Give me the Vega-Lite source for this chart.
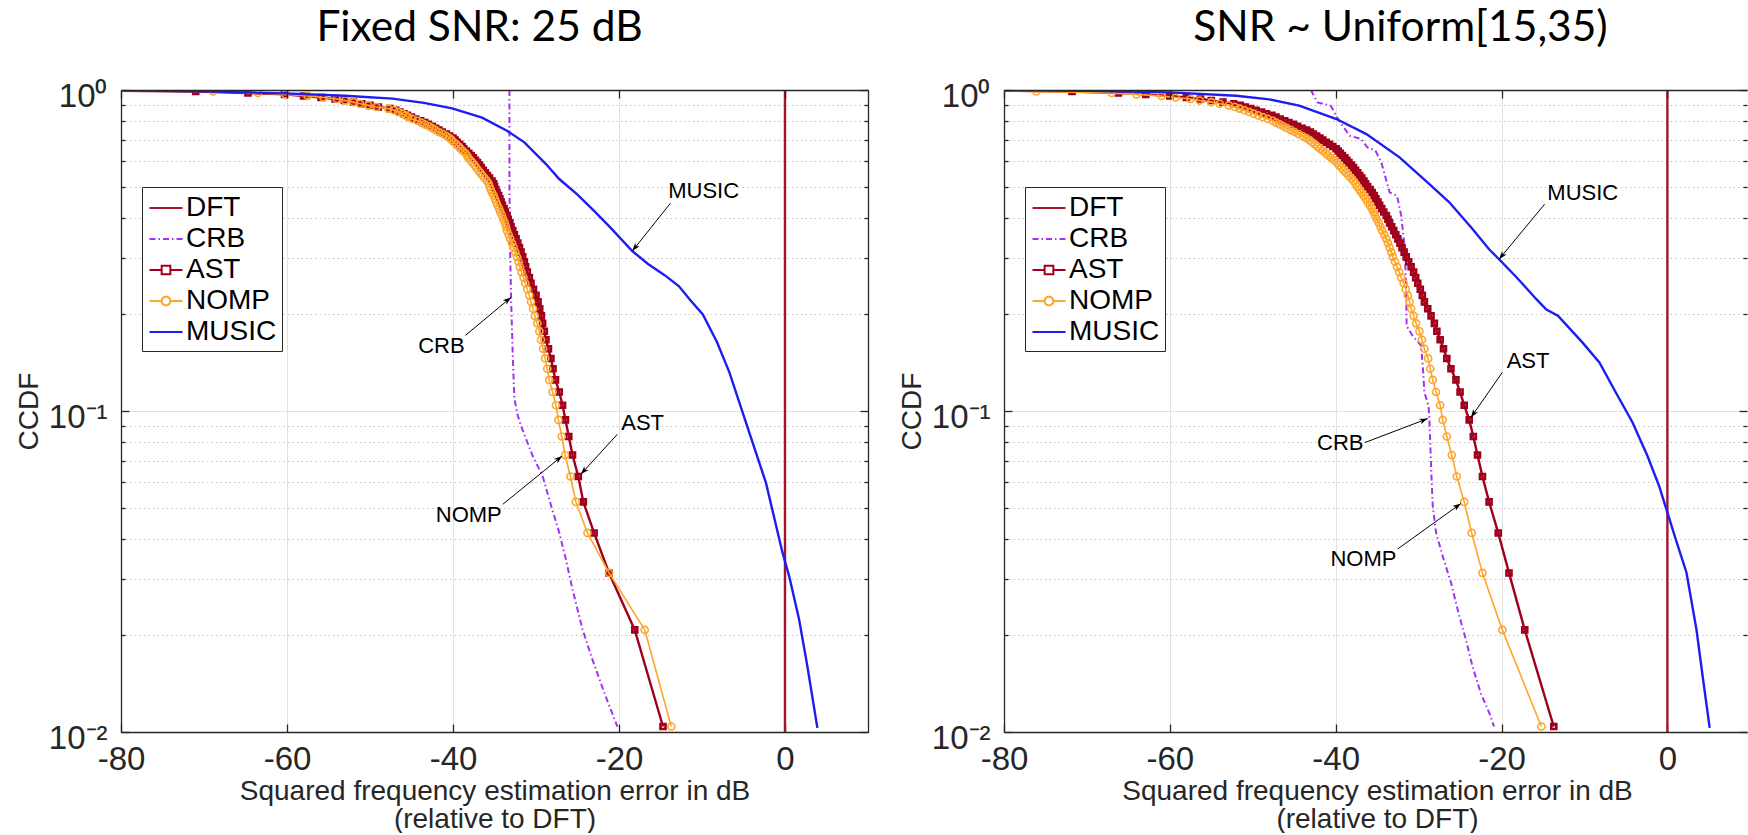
{
"$schema": "https://vega.github.io/schema/vega-lite/v6.json",
"autosize": {"type": "pad"},
"padding": {"left": 15, "top": 6, "right": 0, "bottom": 0},
"background": "white",
"datasets": {
"L_DFT": [{"x":0,"y":1},{"x":0,"y":0.01}],
"R_DFT": [{"x":0,"y":1},{"x":0,"y":0.01}],
"L_CRB": [{"x":-33.2,"y":1},{"x":-33.2,"y":0.5},{"x":-33.1,"y":0.3},{"x":-33.0,"y":0.223},{"x":-32.8,"y":0.148},{"x":-32.6,"y":0.109},{"x":-32.2,"y":0.097},{"x":-31.8,"y":0.0898},{"x":-30.4,"y":0.0724},{"x":-29.2,"y":0.0627},{"x":-28.4,"y":0.053},{"x":-27.2,"y":0.0418},{"x":-26.4,"y":0.0345},{"x":-25.6,"y":0.0278},{"x":-24.4,"y":0.0209},{"x":-23.2,"y":0.0168},{"x":-21.6,"y":0.0129},{"x":-20.2,"y":0.0104}],
"R_CRB": [{"x":-43.0,"y":1},{"x":-42.2,"y":0.915},{"x":-40.6,"y":0.894},{"x":-39.6,"y":0.802},{"x":-38.3,"y":0.72},{"x":-36.9,"y":0.703},{"x":-36.2,"y":0.663},{"x":-35.2,"y":0.647},{"x":-34.5,"y":0.595},{"x":-33.5,"y":0.48},{"x":-32.6,"y":0.468},{"x":-32.1,"y":0.406},{"x":-31.7,"y":0.327},{"x":-31.6,"y":0.283},{"x":-31.5,"y":0.234},{"x":-31.45,"y":0.184},{"x":-30.7,"y":0.171},{"x":-29.7,"y":0.16},{"x":-29.5,"y":0.138},{"x":-29.3,"y":0.114},{"x":-28.8,"y":0.104},{"x":-28.7,"y":0.094},{"x":-28.5,"y":0.0674},{"x":-28.3,"y":0.0506},{"x":-27.9,"y":0.0418},{"x":-27.1,"y":0.0353},{"x":-26.1,"y":0.0292},{"x":-25.1,"y":0.023},{"x":-24.3,"y":0.0194},{"x":-23.5,"y":0.016},{"x":-22.5,"y":0.0132},{"x":-21.5,"y":0.0115},{"x":-20.9,"y":0.0104}],
"L_MUSIC": [{"x":-80,"y":0.998},{"x":-70,"y":0.99},{"x":-60.2,"y":0.976},{"x":-53,"y":0.96},{"x":-47.3,"y":0.94},{"x":-43.5,"y":0.912},{"x":-40.1,"y":0.877},{"x":-36.5,"y":0.82},{"x":-33.5,"y":0.747},{"x":-31.4,"y":0.687},{"x":-28.8,"y":0.588},{"x":-27.2,"y":0.528},{"x":-25,"y":0.472},{"x":-23,"y":0.42},{"x":-21,"y":0.372},{"x":-18.4,"y":0.315},{"x":-16.5,"y":0.287},{"x":-14.5,"y":0.265},{"x":-12.8,"y":0.245},{"x":-11.5,"y":0.223},{"x":-9.9,"y":0.2},{"x":-8.2,"y":0.164},{"x":-6.7,"y":0.132},{"x":-4.7,"y":0.092},{"x":-2.3,"y":0.0598},{"x":-0.3,"y":0.0362},{"x":0.5,"y":0.0306},{"x":1.7,"y":0.0224},{"x":2.7,"y":0.016},{"x":3.9,"y":0.0103}],
"R_MUSIC": [{"x":-80,"y":0.998},{"x":-70,"y":0.994},{"x":-60,"y":0.983},{"x":-52,"y":0.96},{"x":-48,"y":0.935},{"x":-44.4,"y":0.894},{"x":-39.9,"y":0.812},{"x":-36.3,"y":0.729},{"x":-32.3,"y":0.617},{"x":-28.7,"y":0.509},{"x":-26.3,"y":0.447},{"x":-23.5,"y":0.369},{"x":-21.5,"y":0.319},{"x":-20.3,"y":0.297},{"x":-18.2,"y":0.261},{"x":-15.8,"y":0.223},{"x":-14.6,"y":0.207},{"x":-13.2,"y":0.198},{"x":-10.2,"y":0.163},{"x":-8.2,"y":0.1416},{"x":-6.2,"y":0.114},{"x":-4.2,"y":0.0921},{"x":-2.4,"y":0.0724},{"x":-1.0,"y":0.0584},{"x":0.0,"y":0.0483},{"x":1.0,"y":0.0399},{"x":2.3,"y":0.0314},{"x":3.5,"y":0.0209},{"x":4.3,"y":0.0146},{"x":5.1,"y":0.0103}],
"L_AST": [{"x":-14.7,"y":0.0104},{"x":-18.1,"y":0.0208},{"x":-21.2,"y":0.0313},{"x":-23.0,"y":0.0417},{"x":-24.3,"y":0.0521},{"x":-24.9,"y":0.0625},{"x":-25.6,"y":0.0729},{"x":-26.05,"y":0.0833},{"x":-26.45,"y":0.0938},{"x":-26.8,"y":0.1042},{"x":-27.2,"y":0.1146},{"x":-27.65,"y":0.125},{"x":-27.95,"y":0.1354},{"x":-28.2,"y":0.1458},{"x":-28.5,"y":0.1563},{"x":-28.8,"y":0.1667},{"x":-29.0,"y":0.1771},{"x":-29.2,"y":0.1875},{"x":-29.35,"y":0.1979},{"x":-29.55,"y":0.2083},{"x":-29.75,"y":0.2188},{"x":-30.0,"y":0.2292},{"x":-30.3,"y":0.2396},{"x":-30.6,"y":0.25},{"x":-30.8,"y":0.2604},{"x":-31.05,"y":0.2708},{"x":-31.25,"y":0.2813},{"x":-31.4,"y":0.2917},{"x":-31.6,"y":0.3021},{"x":-31.8,"y":0.3125},{"x":-32.0,"y":0.3229},{"x":-32.2,"y":0.3333},{"x":-32.4,"y":0.3438},{"x":-32.6,"y":0.3542},{"x":-32.8,"y":0.3646},{"x":-33.0,"y":0.375},{"x":-33.15,"y":0.3854},{"x":-33.35,"y":0.3958},{"x":-33.5,"y":0.4063},{"x":-33.7,"y":0.4167},{"x":-33.85,"y":0.4271},{"x":-34.05,"y":0.4375},{"x":-34.2,"y":0.4479},{"x":-34.35,"y":0.4583},{"x":-34.5,"y":0.4688},{"x":-34.7,"y":0.4792},{"x":-34.85,"y":0.4896},{"x":-35.0,"y":0.5},{"x":-35.1,"y":0.5104},{"x":-35.3,"y":0.5208},{"x":-35.6,"y":0.5313},{"x":-35.85,"y":0.5417},{"x":-36.1,"y":0.5521},{"x":-36.35,"y":0.5625},{"x":-36.6,"y":0.5729},{"x":-36.8,"y":0.5833},{"x":-37.05,"y":0.5938},{"x":-37.3,"y":0.6042},{"x":-37.55,"y":0.6146},{"x":-37.8,"y":0.625},{"x":-38.1,"y":0.6354},{"x":-38.4,"y":0.6458},{"x":-38.7,"y":0.6563},{"x":-38.9,"y":0.6667},{"x":-39.2,"y":0.6771},{"x":-39.5,"y":0.6875},{"x":-39.75,"y":0.6979},{"x":-40.0,"y":0.7083},{"x":-40.4,"y":0.7188},{"x":-40.8,"y":0.7292},{"x":-41.3,"y":0.7396},{"x":-41.7,"y":0.75},{"x":-42.1,"y":0.7604},{"x":-42.5,"y":0.7708},{"x":-43.0,"y":0.7813},{"x":-43.4,"y":0.7917},{"x":-43.9,"y":0.8021},{"x":-44.5,"y":0.8125},{"x":-45.0,"y":0.8229},{"x":-45.5,"y":0.8333},{"x":-45.9,"y":0.8438},{"x":-46.4,"y":0.8542},{"x":-46.9,"y":0.8646},{"x":-47.6,"y":0.875},{"x":-49.0,"y":0.8854},{"x":-50.0,"y":0.8958},{"x":-51.0,"y":0.9063},{"x":-52.0,"y":0.9167},{"x":-53.1,"y":0.9271},{"x":-54.2,"y":0.9375},{"x":-55.9,"y":0.9479},{"x":-58.0,"y":0.9583},{"x":-60.3,"y":0.9688},{"x":-64.7,"y":0.9792},{"x":-71.0,"y":0.9896},{"x":-88,"y":1}],
"L_NOMP": [{"x":-13.7,"y":0.0104},{"x":-16.9,"y":0.0208},{"x":-21.2,"y":0.0313},{"x":-23.8,"y":0.0417},{"x":-25.2,"y":0.0521},{"x":-25.85,"y":0.0625},{"x":-26.5,"y":0.0729},{"x":-26.9,"y":0.0833},{"x":-27.3,"y":0.0938},{"x":-27.6,"y":0.1042},{"x":-28.0,"y":0.1146},{"x":-28.4,"y":0.125},{"x":-28.65,"y":0.1354},{"x":-28.9,"y":0.1458},{"x":-29.15,"y":0.1563},{"x":-29.4,"y":0.1667},{"x":-29.6,"y":0.1771},{"x":-29.85,"y":0.1875},{"x":-30.15,"y":0.1979},{"x":-30.35,"y":0.2083},{"x":-30.6,"y":0.2188},{"x":-30.8,"y":0.2292},{"x":-31.05,"y":0.2396},{"x":-31.3,"y":0.25},{"x":-31.5,"y":0.2604},{"x":-31.75,"y":0.2708},{"x":-31.95,"y":0.2813},{"x":-32.1,"y":0.2917},{"x":-32.3,"y":0.3021},{"x":-32.5,"y":0.3125},{"x":-32.7,"y":0.3229},{"x":-32.9,"y":0.3333},{"x":-33.1,"y":0.3438},{"x":-33.3,"y":0.3542},{"x":-33.5,"y":0.3646},{"x":-33.6,"y":0.375},{"x":-33.75,"y":0.3854},{"x":-33.95,"y":0.3958},{"x":-34.1,"y":0.4063},{"x":-34.3,"y":0.4167},{"x":-34.45,"y":0.4271},{"x":-34.65,"y":0.4375},{"x":-34.8,"y":0.4479},{"x":-34.95,"y":0.4583},{"x":-35.1,"y":0.4688},{"x":-35.3,"y":0.4792},{"x":-35.45,"y":0.4896},{"x":-35.6,"y":0.5},{"x":-35.7,"y":0.5104},{"x":-35.9,"y":0.5208},{"x":-36.2,"y":0.5313},{"x":-36.45,"y":0.5417},{"x":-36.7,"y":0.5521},{"x":-36.95,"y":0.5625},{"x":-37.2,"y":0.5729},{"x":-37.4,"y":0.5833},{"x":-37.65,"y":0.5938},{"x":-37.9,"y":0.6042},{"x":-38.15,"y":0.6146},{"x":-38.3,"y":0.625},{"x":-38.5,"y":0.6354},{"x":-38.8,"y":0.6458},{"x":-39.1,"y":0.6563},{"x":-39.3,"y":0.6667},{"x":-39.6,"y":0.6771},{"x":-39.9,"y":0.6875},{"x":-40.15,"y":0.6979},{"x":-40.4,"y":0.7083},{"x":-40.8,"y":0.7188},{"x":-41.2,"y":0.7292},{"x":-41.7,"y":0.7396},{"x":-42.1,"y":0.75},{"x":-42.5,"y":0.7604},{"x":-42.9,"y":0.7708},{"x":-43.4,"y":0.7813},{"x":-43.8,"y":0.7917},{"x":-44.3,"y":0.8021},{"x":-44.9,"y":0.8125},{"x":-45.4,"y":0.8229},{"x":-45.7,"y":0.8333},{"x":-46.1,"y":0.8438},{"x":-46.6,"y":0.8542},{"x":-47.1,"y":0.8646},{"x":-47.8,"y":0.875},{"x":-49.2,"y":0.8854},{"x":-50.2,"y":0.8958},{"x":-51.2,"y":0.9063},{"x":-52.0,"y":0.9167},{"x":-53.0,"y":0.9271},{"x":-54.0,"y":0.9375},{"x":-55.6,"y":0.9479},{"x":-57.5,"y":0.9583},{"x":-60.2,"y":0.9688},{"x":-63.5,"y":0.9792},{"x":-68.9,"y":0.9896},{"x":-88,"y":1}],
"R_AST": [{"x":-13.7,"y":0.0104},{"x":-17.2,"y":0.0208},{"x":-19.1,"y":0.0313},{"x":-20.4,"y":0.0417},{"x":-21.5,"y":0.0521},{"x":-22.3,"y":0.0625},{"x":-22.9,"y":0.0729},{"x":-23.4,"y":0.0833},{"x":-23.9,"y":0.0938},{"x":-24.5,"y":0.1042},{"x":-25.0,"y":0.1146},{"x":-25.5,"y":0.125},{"x":-26.1,"y":0.1354},{"x":-26.6,"y":0.1458},{"x":-27.0,"y":0.1563},{"x":-27.4,"y":0.1667},{"x":-27.8,"y":0.1771},{"x":-28.1,"y":0.1875},{"x":-28.5,"y":0.1979},{"x":-28.9,"y":0.2083},{"x":-29.3,"y":0.2188},{"x":-29.55,"y":0.2292},{"x":-29.8,"y":0.2396},{"x":-30.1,"y":0.25},{"x":-30.35,"y":0.2604},{"x":-30.6,"y":0.2708},{"x":-30.9,"y":0.2813},{"x":-31.2,"y":0.2917},{"x":-31.5,"y":0.3021},{"x":-31.75,"y":0.3125},{"x":-32.0,"y":0.3229},{"x":-32.25,"y":0.3333},{"x":-32.5,"y":0.3438},{"x":-32.75,"y":0.3542},{"x":-33.0,"y":0.3646},{"x":-33.25,"y":0.375},{"x":-33.5,"y":0.3854},{"x":-33.7,"y":0.3958},{"x":-33.9,"y":0.4063},{"x":-34.2,"y":0.4167},{"x":-34.45,"y":0.4271},{"x":-34.7,"y":0.4375},{"x":-34.9,"y":0.4479},{"x":-35.15,"y":0.4583},{"x":-35.35,"y":0.4688},{"x":-35.6,"y":0.4792},{"x":-35.85,"y":0.4896},{"x":-36.15,"y":0.5},{"x":-36.4,"y":0.5104},{"x":-36.6,"y":0.5208},{"x":-36.85,"y":0.5313},{"x":-37.1,"y":0.5417},{"x":-37.35,"y":0.5521},{"x":-37.6,"y":0.5625},{"x":-37.85,"y":0.5729},{"x":-38.1,"y":0.5833},{"x":-38.4,"y":0.5938},{"x":-38.65,"y":0.6042},{"x":-38.9,"y":0.6146},{"x":-39.2,"y":0.625},{"x":-39.45,"y":0.6354},{"x":-39.7,"y":0.6458},{"x":-39.95,"y":0.6563},{"x":-40.35,"y":0.6667},{"x":-40.75,"y":0.6771},{"x":-41.15,"y":0.6875},{"x":-41.55,"y":0.6979},{"x":-41.9,"y":0.7083},{"x":-42.3,"y":0.7188},{"x":-42.7,"y":0.7292},{"x":-43.05,"y":0.7396},{"x":-43.5,"y":0.75},{"x":-44.05,"y":0.7604},{"x":-44.6,"y":0.7708},{"x":-45.1,"y":0.7813},{"x":-45.65,"y":0.7917},{"x":-46.15,"y":0.8021},{"x":-46.7,"y":0.8125},{"x":-47.2,"y":0.8229},{"x":-47.7,"y":0.8333},{"x":-48.35,"y":0.8438},{"x":-48.95,"y":0.8542},{"x":-49.6,"y":0.8646},{"x":-50.25,"y":0.875},{"x":-50.9,"y":0.8854},{"x":-51.5,"y":0.8958},{"x":-52.3,"y":0.9063},{"x":-53.6,"y":0.9167},{"x":-55.0,"y":0.9271},{"x":-56.3,"y":0.9375},{"x":-58.0,"y":0.9479},{"x":-60.0,"y":0.9583},{"x":-62.9,"y":0.9688},{"x":-66.2,"y":0.9792},{"x":-71.8,"y":0.9896},{"x":-88,"y":1}],
"R_NOMP": [{"x":-15.2,"y":0.0104},{"x":-19.9,"y":0.0208},{"x":-22.3,"y":0.0313},{"x":-23.6,"y":0.0417},{"x":-24.5,"y":0.0521},{"x":-25.4,"y":0.0625},{"x":-26.0,"y":0.0729},{"x":-26.6,"y":0.0833},{"x":-27.1,"y":0.0938},{"x":-27.4,"y":0.1042},{"x":-27.9,"y":0.1146},{"x":-28.3,"y":0.125},{"x":-28.6,"y":0.1354},{"x":-28.85,"y":0.1458},{"x":-29.3,"y":0.1563},{"x":-29.6,"y":0.1667},{"x":-29.9,"y":0.1771},{"x":-30.3,"y":0.1875},{"x":-30.6,"y":0.1979},{"x":-30.9,"y":0.2083},{"x":-31.1,"y":0.2188},{"x":-31.3,"y":0.2292},{"x":-31.55,"y":0.2396},{"x":-31.8,"y":0.25},{"x":-32.1,"y":0.2604},{"x":-32.35,"y":0.2708},{"x":-32.6,"y":0.2813},{"x":-32.85,"y":0.2917},{"x":-33.1,"y":0.3021},{"x":-33.3,"y":0.3125},{"x":-33.5,"y":0.3229},{"x":-33.7,"y":0.3333},{"x":-33.9,"y":0.3438},{"x":-34.15,"y":0.3542},{"x":-34.4,"y":0.3646},{"x":-34.6,"y":0.375},{"x":-34.8,"y":0.3854},{"x":-35.05,"y":0.3958},{"x":-35.25,"y":0.4063},{"x":-35.45,"y":0.4167},{"x":-35.65,"y":0.4271},{"x":-35.9,"y":0.4375},{"x":-36.15,"y":0.4479},{"x":-36.4,"y":0.4583},{"x":-36.65,"y":0.4688},{"x":-36.9,"y":0.4792},{"x":-37.15,"y":0.4896},{"x":-37.4,"y":0.5},{"x":-37.6,"y":0.5104},{"x":-37.85,"y":0.5208},{"x":-38.15,"y":0.5313},{"x":-38.45,"y":0.5417},{"x":-38.75,"y":0.5521},{"x":-39.05,"y":0.5625},{"x":-39.3,"y":0.5729},{"x":-39.6,"y":0.5833},{"x":-39.85,"y":0.5938},{"x":-40.2,"y":0.6042},{"x":-40.55,"y":0.6146},{"x":-40.9,"y":0.625},{"x":-41.2,"y":0.6354},{"x":-41.55,"y":0.6458},{"x":-41.9,"y":0.6563},{"x":-42.2,"y":0.6667},{"x":-42.5,"y":0.6771},{"x":-42.85,"y":0.6875},{"x":-43.15,"y":0.6979},{"x":-43.55,"y":0.7083},{"x":-44.0,"y":0.7188},{"x":-44.5,"y":0.7292},{"x":-44.95,"y":0.7396},{"x":-45.4,"y":0.75},{"x":-45.9,"y":0.7604},{"x":-46.3,"y":0.7708},{"x":-46.75,"y":0.7813},{"x":-47.2,"y":0.7917},{"x":-47.6,"y":0.8021},{"x":-48.2,"y":0.8125},{"x":-48.8,"y":0.8229},{"x":-49.35,"y":0.8333},{"x":-49.9,"y":0.8438},{"x":-50.45,"y":0.8542},{"x":-51.0,"y":0.8646},{"x":-51.6,"y":0.875},{"x":-52.15,"y":0.8854},{"x":-52.9,"y":0.8958},{"x":-54.0,"y":0.9063},{"x":-55.0,"y":0.9167},{"x":-56.4,"y":0.9271},{"x":-57.5,"y":0.9375},{"x":-59.3,"y":0.9479},{"x":-61.0,"y":0.9583},{"x":-64.0,"y":0.9688},{"x":-67.0,"y":0.9792},{"x":-76.1,"y":0.9896},{"x":-88,"y":1}],
"L_notes": [{"label":"MUSIC","tx":-9.8,"ty":0.485,"sx":-13.8,"sy":0.444,"ex":-18.4,"ey":0.315,"heading":218},{"label":"CRB","tx":-41.4,"ty":0.159,"sx":-38.5,"sy":0.172,"ex":-33.0,"ey":0.226,"heading":51},{"label":"AST","tx":-17.15,"ty":0.092,"sx":-20.2,"sy":0.0846,"ex":-24.6,"ey":0.0635,"heading":222},{"label":"NOMP","tx":-38.1,"ty":0.0473,"sx":-34.0,"sy":0.0512,"ex":-26.85,"ey":0.0724,"heading":51}],
"R_notes": [{"label":"MUSIC","tx":-10.2,"ty":0.479,"sx":-14.8,"sy":0.441,"ex":-20.3,"ey":0.297,"heading":219},{"label":"AST","tx":-16.8,"ty":0.143,"sx":-19.9,"sy":0.132,"ex":-23.7,"ey":0.0954,"heading":215},{"label":"CRB","tx":-39.45,"ty":0.0797,"sx":-36.5,"sy":0.0797,"ex":-28.9,"ey":0.0947,"heading":69},{"label":"NOMP","tx":-36.65,"ty":0.0347,"sx":-32.5,"sy":0.0372,"ex":-24.9,"ey":0.0515,"heading":54}]
},
"hconcat": [
{
"width": 747, "height": 642,
"title": {"text": "Fixed SNR: 25 dB", "dx": -15, "offset": -3, "baseline": "alphabetic"},
"resolve": {"axis": {"x": "independent", "y": "independent"}},
"layer": [
{"data": {"name": "L_DFT"}, "mark": {"type": "line", "strokeWidth": 2.4, "clip": true},
 "encoding": {
  "x": {"field": "x", "type": "quantitative", "scale": {"domain": [-80, 10], "nice": false, "zero": false},
        "axis": {"orient": "bottom", "values": [-80,-60,-40,-20,0], "labelExpr": "'' + datum.value", "grid": true, "gridColor": "#e2e2e2", "gridWidth": 1, "tickSize": -8, "labelPadding": 19, "labelFlush": false, "labelFontSize": 33, "title": ["Squared frequency estimation error in dB", "(relative to DFT)"], "titleFontSize": 28, "titleY": 67, "titleBaseline": "alphabetic", "titleLineHeight": 28}},
  "y": {"field": "y", "type": "quantitative", "scale": {"type": "log", "domain": [0.01, 1], "nice": false},
        "axis": {"orient": "left", "values": [0.01,0.02,0.03,0.04,0.05,0.06,0.07,0.08,0.09,0.1,0.2,0.3,0.4,0.5,0.6,0.7,0.8,0.9,1], "labelExpr": "datum.value === 1 ? '10⁰' : datum.value === 0.1 ? '10⁻¹' : datum.value === 0.01 ? '10⁻²' : ''", "labelOverlap": false, "labelFlush": false, "labelFontSize": 33, "labelPadding": 22, "labelOffset": 6, "grid": true,
          "gridColor": {"condition": {"test": "datum.value === 1 || datum.value === 0.1 || datum.value === 0.01", "value": "#e2e2e2"}, "value": "#c2c2c2"},
          "gridDash": {"condition": {"test": "datum.value === 1 || datum.value === 0.1 || datum.value === 0.01", "value": []}, "value": [1.5, 3]},
          "tickSize": {"condition": {"test": "datum.value === 1 || datum.value === 0.1 || datum.value === 0.01", "value": -8}, "value": -4},
          "title": "CCDF", "titleFontSize": 28, "titleX": -84, "titleBaseline": "alphabetic", "titleAngle": 270}},
  "color": {"datum": "DFT", "type": "nominal",
    "scale": {"domain": ["DFT","CRB","AST","NOMP","MUSIC"], "range": ["#A2142F","#A530F5","#A0001C","#FDA62B","#1D1DF2"]},
    "legend": {"orient": "none", "legendX": 21, "legendY": 97, "title": null, "labelFont": "Liberation Sans", "labelFontSize": 28, "labelColor": "black", "labelExpr": "datum.label + '\u00a0\u00a0'", "symbolSize": 900, "symbolStrokeWidth": 2, "rowPadding": 1, "padding": 5, "labelOffset": 7, "strokeColor": "#262626", "fillColor": "white",
      "encode": {"symbols": {"update": {
        "shape": {"signal": "datum.value === 'AST' ? 'M-0.9,0H-0.09M0.49,0H1.3M-0.09,-0.29H0.49V0.29H-0.09Z' : datum.value === 'NOMP' ? 'M-0.9,0H-0.09M0.49,0H1.3M-0.09,0A0.29,0.29 0 1,0 0.49,0A0.29,0.29 0 1,0 -0.09,0' : 'M-0.9,0H1.3'"},
        "strokeDash": {"signal": "datum.value === 'CRB' ? [6,3,1.5,3] : [1,0]"},
        "fill": {"value": "transparent"}}}}}},
  "order": {"field": "y", "sort": "descending"}}},
{"data": {"name": "L_CRB"}, "mark": {"type": "line", "strokeWidth": 2, "strokeDash": [6,3,1.5,3], "clip": true},
 "encoding": {
  "x": {"field": "x", "type": "quantitative", "axis": {"orient": "top", "values": [-80,-60,-40,-20,0], "labels": false, "grid": false, "tickSize": -8, "title": null, "zindex": 1}},
  "y": {"field": "y", "type": "quantitative", "axis": {"orient": "right", "values": [0.01,0.02,0.03,0.04,0.05,0.06,0.07,0.08,0.09,0.1,0.2,0.3,0.4,0.5,0.6,0.7,0.8,0.9,1], "labels": false, "grid": false, "title": null, "zindex": 1,
     "tickSize": {"condition": {"test": "datum.value === 1 || datum.value === 0.1 || datum.value === 0.01", "value": -8}, "value": -4}}},
  "color": {"datum": "CRB", "type": "nominal"},
  "order": {"field": "y", "sort": "descending"}}},
{"data": {"name": "L_AST"}, "mark": {"type": "line", "strokeWidth": 2.4, "clip": true},
 "encoding": {"x": {"field": "x", "type": "quantitative", "axis": null}, "y": {"field": "y", "type": "quantitative", "axis": null}, "color": {"datum": "AST", "type": "nominal"}, "order": {"field": "y", "sort": "descending"}}},
{"data": {"name": "L_AST"}, "mark": {"type": "point", "shape": "square", "filled": false, "size": 25, "strokeWidth": 2.6, "opacity": 1, "clip": true},
 "encoding": {"x": {"field": "x", "type": "quantitative", "axis": null}, "y": {"field": "y", "type": "quantitative", "axis": null}, "color": {"datum": "AST", "type": "nominal"}}},
{"data": {"name": "L_NOMP"}, "mark": {"type": "line", "strokeWidth": 1.6, "clip": true},
 "encoding": {"x": {"field": "x", "type": "quantitative", "axis": null}, "y": {"field": "y", "type": "quantitative", "axis": null}, "color": {"datum": "NOMP", "type": "nominal"}, "order": {"field": "y", "sort": "descending"}}},
{"data": {"name": "L_NOMP"}, "mark": {"type": "point", "shape": "circle", "filled": false, "size": 50, "strokeWidth": 1.6, "opacity": 1, "clip": true},
 "encoding": {"x": {"field": "x", "type": "quantitative", "axis": null}, "y": {"field": "y", "type": "quantitative", "axis": null}, "color": {"datum": "NOMP", "type": "nominal"}}},
{"data": {"name": "L_MUSIC"}, "mark": {"type": "line", "strokeWidth": 2.4, "clip": true},
 "encoding": {"x": {"field": "x", "type": "quantitative", "axis": null}, "y": {"field": "y", "type": "quantitative", "axis": null}, "color": {"datum": "MUSIC", "type": "nominal"}, "order": {"field": "y", "sort": "descending"}}},
{"data": {"name": "L_notes"}, "mark": {"type": "rule", "color": "black", "strokeWidth": 1},
 "encoding": {"x": {"field": "sx", "type": "quantitative", "axis": null}, "y": {"field": "sy", "type": "quantitative", "axis": null}, "x2": {"field": "ex"}, "y2": {"field": "ey"}}},
{"data": {"name": "L_notes"}, "mark": {"type": "point", "shape": "M0,0L-0.55,1.6L0,1.15L0.55,1.6Z", "filled": true, "color": "black", "size": 110, "opacity": 1},
 "encoding": {"x": {"field": "ex", "type": "quantitative", "axis": null}, "y": {"field": "ey", "type": "quantitative", "axis": null}, "angle": {"field": "heading", "type": "quantitative", "scale": null}}},
{"data": {"name": "L_notes"}, "mark": {"type": "text", "font": "Liberation Sans", "fontSize": 22, "color": "black", "align": "center", "baseline": "middle"},
 "encoding": {"x": {"field": "tx", "type": "quantitative", "axis": null}, "y": {"field": "ty", "type": "quantitative", "axis": null}, "text": {"field": "label"}}}
]
},
{
"width": 743, "height": 642,
"title": {"text": "SNR ~ Uniform[15,35)", "dx": 25, "offset": -3, "baseline": "alphabetic"},
"resolve": {"axis": {"x": "independent", "y": "independent"}},
"layer": [
{"data": {"name": "R_DFT"}, "mark": {"type": "line", "strokeWidth": 2.4, "clip": true},
 "encoding": {
  "x": {"field": "x", "type": "quantitative", "scale": {"domain": [-80, 9.6], "nice": false, "zero": false},
        "axis": {"orient": "bottom", "values": [-80,-60,-40,-20,0], "labelExpr": "'' + datum.value", "grid": true, "gridColor": "#e2e2e2", "gridWidth": 1, "tickSize": -8, "labelPadding": 19, "labelFlush": false, "labelFontSize": 33, "title": ["Squared frequency estimation error in dB", "(relative to DFT)"], "titleFontSize": 28, "titleX": 373, "titleY": 67, "titleBaseline": "alphabetic", "titleLineHeight": 28}},
  "y": {"field": "y", "type": "quantitative", "scale": {"type": "log", "domain": [0.01, 1], "nice": false},
        "axis": {"orient": "left", "values": [0.01,0.02,0.03,0.04,0.05,0.06,0.07,0.08,0.09,0.1,0.2,0.3,0.4,0.5,0.6,0.7,0.8,0.9,1], "labelExpr": "datum.value === 1 ? '10⁰' : datum.value === 0.1 ? '10⁻¹' : datum.value === 0.01 ? '10⁻²' : ''", "labelOverlap": false, "labelFlush": false, "labelFontSize": 33, "labelPadding": 22, "labelOffset": 6, "grid": true,
          "gridColor": {"condition": {"test": "datum.value === 1 || datum.value === 0.1 || datum.value === 0.01", "value": "#e2e2e2"}, "value": "#c2c2c2"},
          "gridDash": {"condition": {"test": "datum.value === 1 || datum.value === 0.1 || datum.value === 0.01", "value": []}, "value": [1.5, 3]},
          "tickSize": {"condition": {"test": "datum.value === 1 || datum.value === 0.1 || datum.value === 0.01", "value": -8}, "value": -4},
          "title": "CCDF", "titleFontSize": 28, "titleX": -84, "titleBaseline": "alphabetic", "titleAngle": 270}},
  "color": {"datum": "DFT", "type": "nominal",
    "scale": {"domain": ["DFT","CRB","AST","NOMP","MUSIC"], "range": ["#A2142F","#A530F5","#A0001C","#FDA62B","#1D1DF2"]},
    "legend": {"orient": "none", "legendX": 21, "legendY": 97, "title": null, "labelFont": "Liberation Sans", "labelFontSize": 28, "labelColor": "black", "labelExpr": "datum.label + '\u00a0\u00a0'", "symbolSize": 900, "symbolStrokeWidth": 2, "rowPadding": 1, "padding": 5, "labelOffset": 7, "strokeColor": "#262626", "fillColor": "white",
      "encode": {"symbols": {"update": {
        "shape": {"signal": "datum.value === 'AST' ? 'M-0.9,0H-0.09M0.49,0H1.3M-0.09,-0.29H0.49V0.29H-0.09Z' : datum.value === 'NOMP' ? 'M-0.9,0H-0.09M0.49,0H1.3M-0.09,0A0.29,0.29 0 1,0 0.49,0A0.29,0.29 0 1,0 -0.09,0' : 'M-0.9,0H1.3'"},
        "strokeDash": {"signal": "datum.value === 'CRB' ? [6,3,1.5,3] : [1,0]"},
        "fill": {"value": "transparent"}}}}}},
  "order": {"field": "y", "sort": "descending"}}},
{"data": {"name": "R_CRB"}, "mark": {"type": "line", "strokeWidth": 2, "strokeDash": [6,3,1.5,3], "clip": true},
 "encoding": {
  "x": {"field": "x", "type": "quantitative", "axis": {"orient": "top", "values": [-80,-60,-40,-20,0], "labels": false, "grid": false, "tickSize": -8, "title": null, "zindex": 1}},
  "y": {"field": "y", "type": "quantitative", "axis": {"orient": "right", "values": [0.01,0.02,0.03,0.04,0.05,0.06,0.07,0.08,0.09,0.1,0.2,0.3,0.4,0.5,0.6,0.7,0.8,0.9,1], "labels": false, "grid": false, "domain": false, "title": null, "zindex": 1,
     "tickSize": {"condition": {"test": "datum.value === 1 || datum.value === 0.1 || datum.value === 0.01", "value": -8}, "value": -4}}},
  "color": {"datum": "CRB", "type": "nominal"},
  "order": {"field": "y", "sort": "descending"}}},
{"data": {"name": "R_AST"}, "mark": {"type": "line", "strokeWidth": 2.4, "clip": true},
 "encoding": {"x": {"field": "x", "type": "quantitative", "axis": null}, "y": {"field": "y", "type": "quantitative", "axis": null}, "color": {"datum": "AST", "type": "nominal"}, "order": {"field": "y", "sort": "descending"}}},
{"data": {"name": "R_AST"}, "mark": {"type": "point", "shape": "square", "filled": false, "size": 25, "strokeWidth": 2.6, "opacity": 1, "clip": true},
 "encoding": {"x": {"field": "x", "type": "quantitative", "axis": null}, "y": {"field": "y", "type": "quantitative", "axis": null}, "color": {"datum": "AST", "type": "nominal"}}},
{"data": {"name": "R_NOMP"}, "mark": {"type": "line", "strokeWidth": 1.6, "clip": true},
 "encoding": {"x": {"field": "x", "type": "quantitative", "axis": null}, "y": {"field": "y", "type": "quantitative", "axis": null}, "color": {"datum": "NOMP", "type": "nominal"}, "order": {"field": "y", "sort": "descending"}}},
{"data": {"name": "R_NOMP"}, "mark": {"type": "point", "shape": "circle", "filled": false, "size": 50, "strokeWidth": 1.6, "opacity": 1, "clip": true},
 "encoding": {"x": {"field": "x", "type": "quantitative", "axis": null}, "y": {"field": "y", "type": "quantitative", "axis": null}, "color": {"datum": "NOMP", "type": "nominal"}}},
{"data": {"name": "R_MUSIC"}, "mark": {"type": "line", "strokeWidth": 2.4, "clip": true},
 "encoding": {"x": {"field": "x", "type": "quantitative", "axis": null}, "y": {"field": "y", "type": "quantitative", "axis": null}, "color": {"datum": "MUSIC", "type": "nominal"}, "order": {"field": "y", "sort": "descending"}}},
{"data": {"name": "R_notes"}, "mark": {"type": "rule", "color": "black", "strokeWidth": 1},
 "encoding": {"x": {"field": "sx", "type": "quantitative", "axis": null}, "y": {"field": "sy", "type": "quantitative", "axis": null}, "x2": {"field": "ex"}, "y2": {"field": "ey"}}},
{"data": {"name": "R_notes"}, "mark": {"type": "point", "shape": "M0,0L-0.55,1.6L0,1.15L0.55,1.6Z", "filled": true, "color": "black", "size": 110, "opacity": 1},
 "encoding": {"x": {"field": "ex", "type": "quantitative", "axis": null}, "y": {"field": "ey", "type": "quantitative", "axis": null}, "angle": {"field": "heading", "type": "quantitative", "scale": null}}},
{"data": {"name": "R_notes"}, "mark": {"type": "text", "font": "Liberation Sans", "fontSize": 22, "color": "black", "align": "center", "baseline": "middle"},
 "encoding": {"x": {"field": "tx", "type": "quantitative", "axis": null}, "y": {"field": "ty", "type": "quantitative", "axis": null}, "text": {"field": "label"}}}
]
}
],
"spacing": 136,
"bounds": "flush",
"resolve": {"scale": {"color": "independent"}, "legend": {"color": "independent"}},
"config": {
  "view": {"stroke": null},
  "font": "Liberation Sans",
  "axis": {"labelFont": "Liberation Sans", "titleFont": "Liberation Sans", "labelColor": "#262626", "titleColor": "#262626", "domainColor": "#262626", "tickColor": "#262626", "domainWidth": 1.3, "tickWidth": 1.3, "titleFontWeight": "normal"},
  "title": {"font": "Lato", "fontSize": 42.5, "fontWeight": "normal", "color": "black", "anchor": "middle"}
}
}
